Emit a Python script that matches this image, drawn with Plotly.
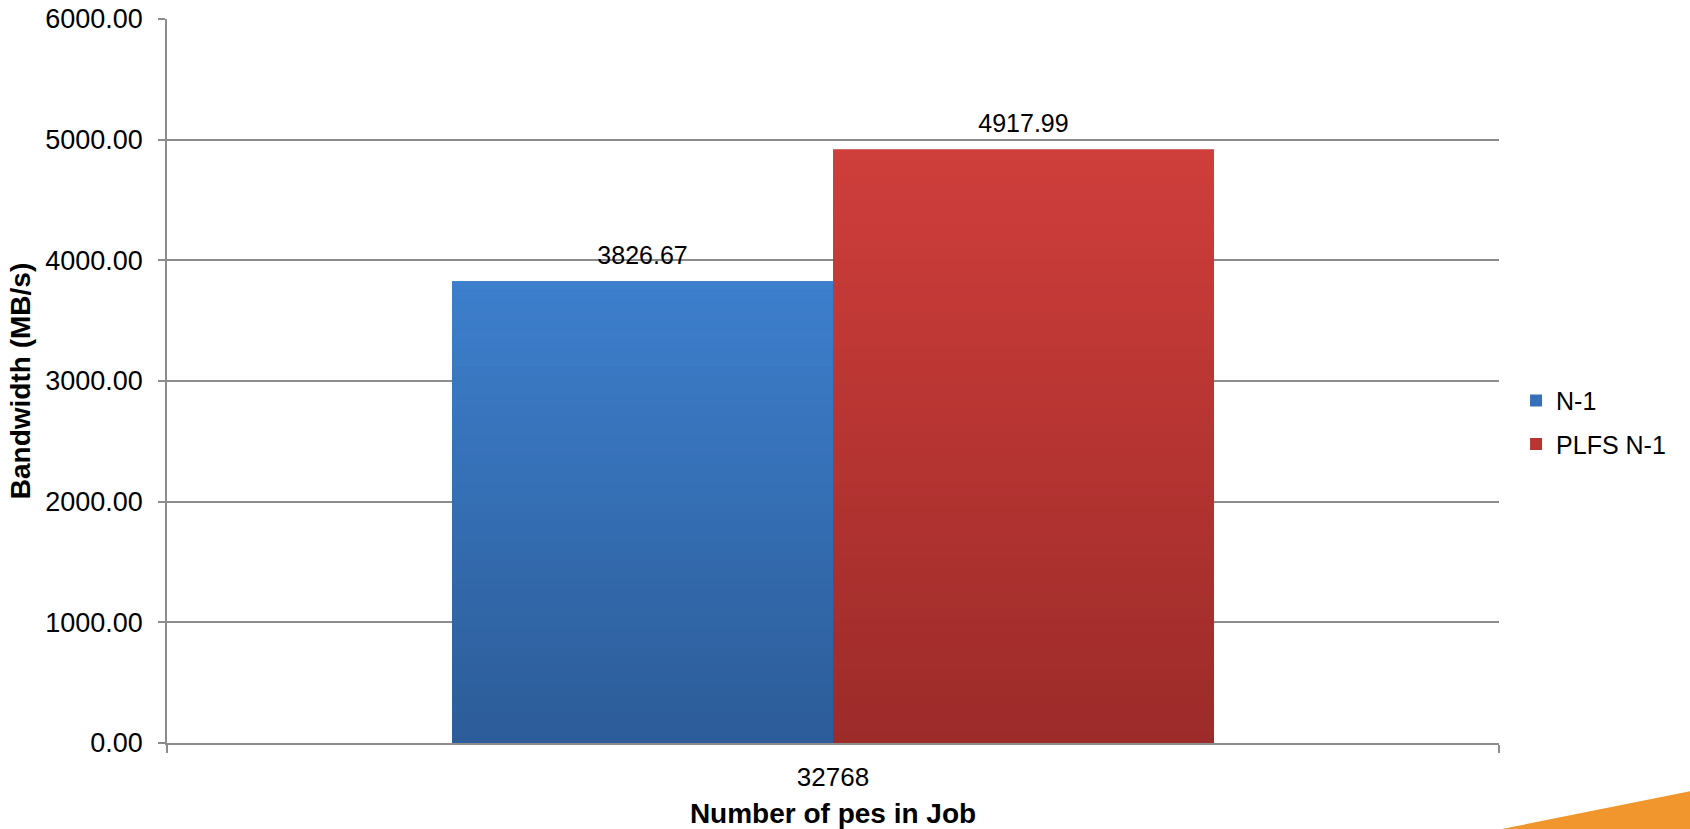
import plotly.graph_objects as go

categories = ["32768"]
series_names = ["N-1", "PLFS N-1"]
n1_values = [3826.67]
plfs_values = [4917.99]
y_ticks = [0, 1000, 2000, 3000, 4000, 5000, 6000]

FONT = "Liberation Sans, Arial, sans-serif"
GRID = "#8c8c8c"

# gradient colours (top, bottom) and legend swatch colour per series
styles = {
    "N-1": {"top": (61, 127, 205), "bottom": (44, 92, 152), "mid": "#3670b8"},
    "PLFS N-1": {"top": (207, 62, 59), "bottom": (156, 43, 41), "mid": "#b83533"},
}
series_values = {"N-1": n1_values, "PLFS N-1": plfs_values}

N_STEPS = 48
BARGAP = 0.428


def mix(c1, c2, t):
    return "rgb(%d,%d,%d)" % tuple(round(a + (b - a) * t) for a, b in zip(c1, c2))


fig = go.Figure()

for name in series_names:
    vals = series_values[name]
    st = styles[name]
    # main bar: legend entry
    fig.add_trace(go.Bar(
        name=name, x=categories, y=vals, offsetgroup=name, legendgroup=name,
        marker=dict(color=st["mid"], line=dict(width=0)),
        hoverinfo="skip",
    ))
    # vertical gradient overlay built from the same value
    for v, cat in zip(vals, categories):
        step = v / N_STEPS
        xs, ys, bases, cols = [], [], [], []
        for i in range(N_STEPS):
            xs.append(cat)
            ys.append(step * 1.02 if i < N_STEPS - 1 else step)
            bases.append(step * i)
            t = 1 - (i + 0.5) / N_STEPS  # 0 at top, 1 at bottom
            cols.append(mix(st["top"], st["bottom"], t))
        fig.add_trace(go.Bar(
            x=xs, y=ys, base=bases, offsetgroup=name, legendgroup=name,
            showlegend=False, hoverinfo="skip",
            marker=dict(color=cols, line=dict(width=0)),
        ))

# value labels, grouped the same way as the bars
for name in series_names:
    vals = series_values[name]
    fig.add_trace(go.Scatter(
        x=categories, y=vals, offsetgroup=name, mode="markers+text",
        text=["%.2f" % v for v in vals], textposition="top center",
        textfont=dict(family=FONT, size=25, color="black"),
        marker=dict(size=16, opacity=0), showlegend=False, hoverinfo="skip",
        cliponaxis=False,
    ))

# plot area in pixels: x 167..1499, y 19..743 of 1690x829
L, R, T, B = 167, 191, 19, 86
W, H = 1690, 829
pw, ph = W - L - R, H - T - B


def px(x):
    return (x - L) / pw


def py(y):
    return (H - B - y) / ph


fig.update_layout(
    width=W, height=H,
    margin=dict(l=L, r=R, t=T, b=B, autoexpand=False),
    paper_bgcolor="white", plot_bgcolor="white",
    barmode="group", bargap=BARGAP, bargroupgap=0,
    scattermode="group", scattergap=BARGAP,
    font=dict(family=FONT, size=25, color="black"),
    showlegend=True,
    legend=dict(
        x=1.0128, y=0.443, xanchor="left", yanchor="middle",
        font=dict(family=FONT, size=25, color="black"),
        tracegroupgap=8, bgcolor="rgba(0,0,0,0)",
    ),
    xaxis=dict(
        type="category", range=[-0.5, 0.5], automargin=False,
        showgrid=False, showline=True, linecolor=GRID, linewidth=1.5,
        ticks="outside", tickson="boundaries", ticklen=8, tickcolor=GRID, tickwidth=1.5,
        tickfont=dict(family=FONT, size=26, color="black"),
        ticklabelstandoff=10,
        title=dict(text="Number of pes in Job", standoff=12,
                   font=dict(family=FONT, size=28, color="black", weight="bold")),
    ),
    yaxis=dict(
        range=[0, 6000], tickvals=y_ticks, tickformat=".2f", automargin=False,
        showgrid=True, gridcolor=GRID, gridwidth=1.5,
        zeroline=False, showline=True, linecolor=GRID, linewidth=1.5,
        ticks="outside", ticklen=7, tickcolor=GRID, tickwidth=1.5,
        tickfont=dict(family=FONT, size=27, color="black"),
        ticklabelstandoff=10,
        title=dict(text="Bandwidth (MB/s)", standoff=6,
                   font=dict(family=FONT, size=28, color="black", weight="bold")),
    ),
    shapes=[
        # orange slide-decoration swoosh in the bottom-right corner
        dict(type="path", xref="paper", yref="paper",
             path="M %f,%f L %f,%f L %f,%f Z" % (px(1497), py(830), px(1691), py(791), px(1691), py(830)),
             fillcolor="#f0962c", line=dict(width=0), layer="above"),
    ],
)

fig.write_html("out.html", config={"displayModeBar": False},
               post_script="document.body.style.margin='0';")
